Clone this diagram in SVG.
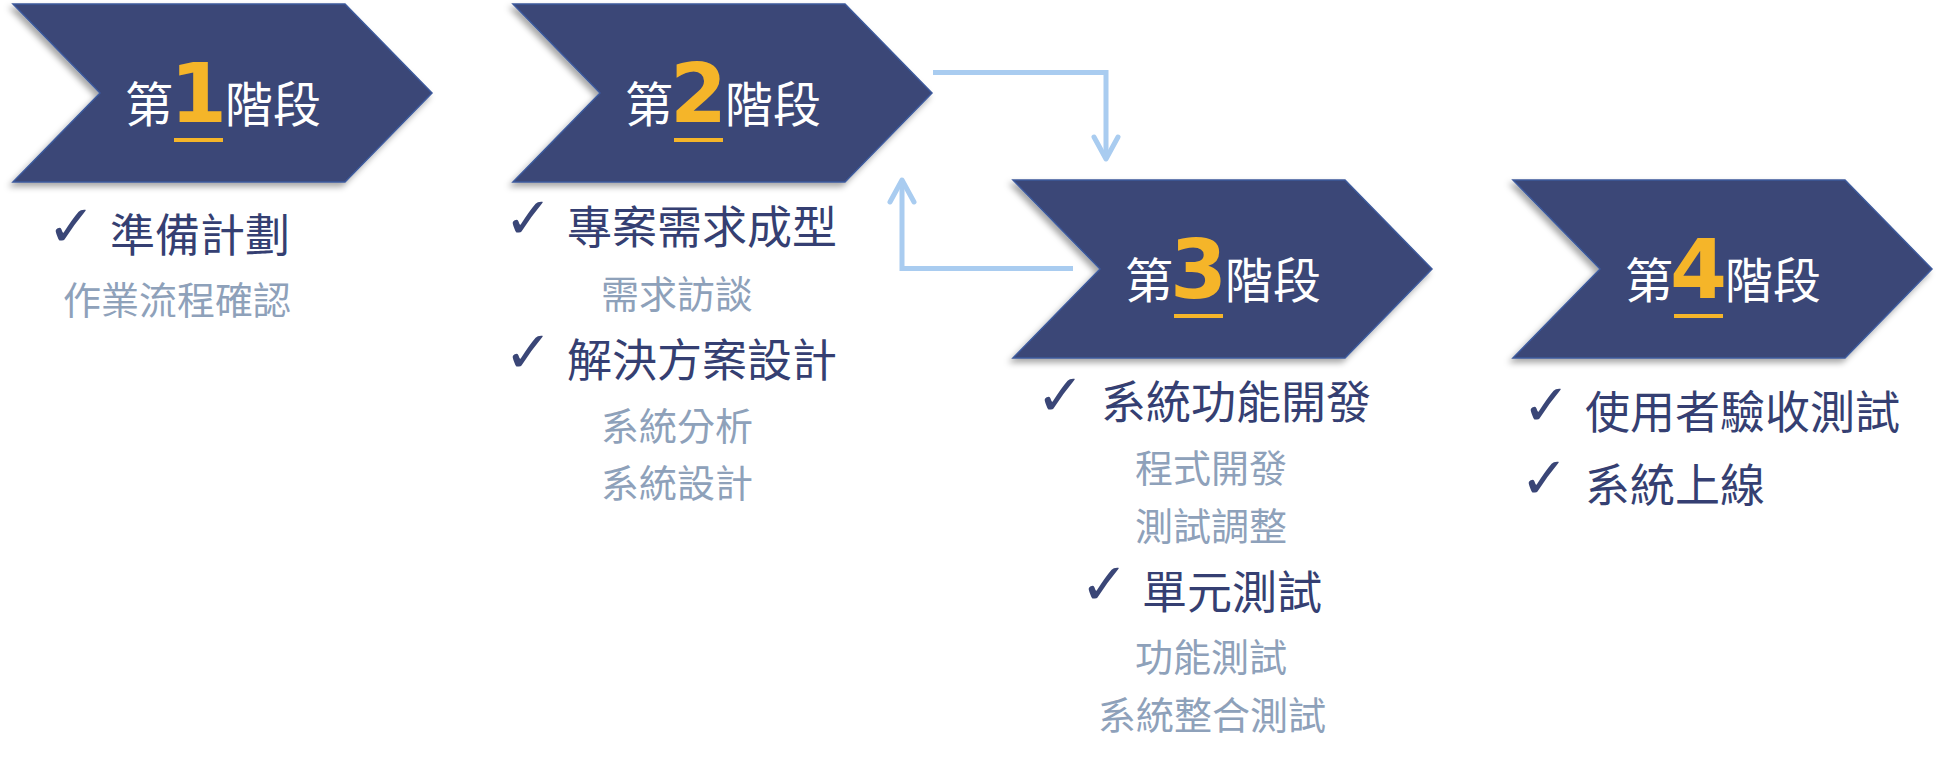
<svg xmlns="http://www.w3.org/2000/svg" width="1937" height="760" viewBox="0 0 1937 760">
<defs>
<filter id="sh" x="-10%" y="-10%" width="120%" height="130%">
<feDropShadow dx="-3" dy="4" stdDeviation="3" flood-color="#000" flood-opacity="0.35"/>
</filter>
<path id="chev" d="M0,0 H332 L419,89 L332,178 H0 L87,89 Z"/>
</defs>
<style>
.chev{fill:#3A4677;stroke:#3D5A9C;stroke-width:1.5;filter:url(#sh)}
.t{font-family:"Noto Sans CJK TC","Noto Sans CJK SC",sans-serif;font-size:48px;fill:#FFFFFF}
.n{font-family:"DejaVu Sans",sans-serif;font-weight:bold;font-size:82px;fill:#F5B529}
.ul{fill:#F5B529}
.ck{font-family:"DejaVu Sans",sans-serif;font-size:58px;fill:#3A4677}
.m{font-family:"Noto Sans CJK TC","Noto Sans CJK SC",sans-serif;font-size:45px;fill:#353F72}
.s{font-family:"Noto Sans CJK TC","Noto Sans CJK SC",sans-serif;font-size:38px;fill:#8EA1BA}
.cn{fill:none;stroke:#A9CCF0;stroke-width:5}
.ah{fill:none;stroke:#A9CCF0;stroke-width:5;stroke-linecap:round;stroke-linejoin:round}
</style>
<g id="connectors">
<path class="cn" d="M933,72.5 H1106 V156"/>
<path class="ah" d="M1094,137 L1106,159 L1118,137"/>
<path class="cn" d="M1073,268.5 H902 V182"/>
<path class="ah" d="M890,202 L902,180 L914,202"/>
</g>
<g id="stage1">
<use href="#chev" class="chev" x="13" y="4"/>
<text class="t" y="122"><tspan x="125">第</tspan><tspan class="n" x="170">1</tspan><tspan x="225">階段</tspan></text>
<rect class="ul" x="174" y="138" width="49" height="4"/>
<text class="ck" x="47" y="246">✓</text>
<text class="m" x="110" y="252">準備計劃</text>
<text class="s" x="63" y="314">作業流程確認</text>
</g>
<g id="stage2">
<use href="#chev" class="chev" x="513" y="4"/>
<text class="t" y="122"><tspan x="625">第</tspan><tspan class="n" x="670">2</tspan><tspan x="725">階段</tspan></text>
<rect class="ul" x="674" y="138" width="49" height="4"/>
<text class="ck" x="504" y="238">✓</text>
<text class="m" x="567" y="244">專案需求成型</text>
<text class="s" x="601" y="308">需求訪談</text>
<text class="ck" x="504" y="372">✓</text>
<text class="m" x="567" y="377">解決方案設計</text>
<text class="s" x="601" y="440">系統分析</text>
<text class="s" x="601" y="497">系統設計</text>
</g>
<g id="stage3">
<use href="#chev" class="chev" x="1013" y="180"/>
<text class="t" y="298"><tspan x="1125">第</tspan><tspan class="n" x="1170">3</tspan><tspan x="1225">階段</tspan></text>
<rect class="ul" x="1174" y="314" width="49" height="4"/>
<text class="ck" x="1036" y="415">✓</text>
<text class="m" x="1101" y="419">系統功能開發</text>
<text class="s" x="1135" y="482">程式開發</text>
<text class="s" x="1135" y="540">測試調整</text>
<text class="ck" x="1080" y="604">✓</text>
<text class="m" x="1142" y="609">單元測試</text>
<text class="s" x="1135" y="671">功能測試</text>
<text class="s" x="1098" y="729">系統整合測試</text>
</g>
<g id="stage4">
<use href="#chev" class="chev" x="1513" y="180"/>
<text class="t" y="298"><tspan x="1625">第</tspan><tspan class="n" x="1670">4</tspan><tspan x="1725">階段</tspan></text>
<rect class="ul" x="1674" y="314" width="49" height="4"/>
<text class="ck" x="1522" y="425">✓</text>
<text class="m" x="1585" y="429">使用者驗收測試</text>
<text class="ck" x="1520" y="498">✓</text>
<text class="m" x="1585" y="502">系統上線</text>
</g>
</svg>
